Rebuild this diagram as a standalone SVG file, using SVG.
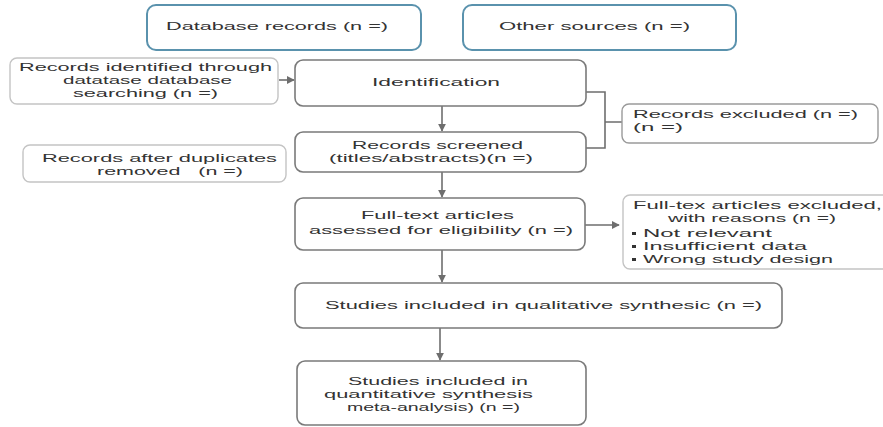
<svg xmlns="http://www.w3.org/2000/svg" width="883" height="427" viewBox="0 0 883 427">
<defs>
<style>
text{font-family:"Liberation Sans",Arial,sans-serif;font-size:11.5px;fill:#333;}
.blue{fill:#fff;stroke:#5a92ad;stroke-width:2;}
.main{fill:#fff;stroke:#7a7a7a;stroke-width:1.6;}
.side{fill:#fff;stroke:#c4c4c4;stroke-width:1.4;}
.side2{fill:#fff;stroke:#9a9a9a;stroke-width:1.4;}
.conn{fill:none;stroke:#6e6e6e;stroke-width:1.6;}
</style>
<marker id="arr" viewBox="0 0 10 10" refX="9" refY="5" markerWidth="5" markerHeight="5" orient="auto" markerUnits="strokeWidth">
<path d="M0,0 L10,5 L0,10 z" fill="#6e6e6e"/>
</marker>
</defs>
<rect width="883" height="427" fill="#fff"/>
<g id="connectors">
<line class="conn" x1="279" y1="80" x2="294" y2="80" marker-end="url(#arr)"/>
<line class="conn" x1="442" y1="106" x2="442" y2="131" marker-end="url(#arr)"/>
<line class="conn" x1="442" y1="172" x2="442" y2="197" marker-end="url(#arr)"/>
<line class="conn" x1="442" y1="250" x2="442" y2="282" marker-end="url(#arr)"/>
<line class="conn" x1="440" y1="328" x2="440" y2="360" marker-end="url(#arr)"/>
<path class="conn" d="M586,92 H605 V148 H586 M605,122 H622"/>
<line class="conn" x1="585" y1="225" x2="619" y2="225" marker-end="url(#arr)"/>
</g>
<g id="database">
<rect class="blue" x="147" y="5" width="274" height="45" rx="9"/>
<text x="166" y="30" textLength="222" lengthAdjust="spacingAndGlyphs">Database records (n =)</text>
</g>
<g id="other">
<rect class="blue" x="463" y="5" width="273" height="45" rx="9"/>
<text x="499" y="30" textLength="191" lengthAdjust="spacingAndGlyphs">Other sources (n =)</text>
</g>
<g id="records-identified">
<rect class="side" x="10" y="58" width="268" height="46" rx="7"/>
<text x="19" y="71" textLength="253" lengthAdjust="spacingAndGlyphs">Records identified through</text>
<text x="63" y="84" textLength="169" lengthAdjust="spacingAndGlyphs">datatase database</text>
<text x="73" y="97" textLength="145" lengthAdjust="spacingAndGlyphs">searching (n =)</text>
</g>
<g id="identification">
<rect class="main" x="295" y="60" width="291" height="46" rx="8"/>
<text x="372" y="86" textLength="128" lengthAdjust="spacingAndGlyphs">Identification</text>
</g>
<g id="screened">
<rect class="main" x="295" y="132" width="291" height="40" rx="8"/>
<text x="352" y="149" textLength="171" lengthAdjust="spacingAndGlyphs">Records screened</text>
<text x="329" y="162" textLength="204" lengthAdjust="spacingAndGlyphs">(titles/abstracts)(n =)</text>
</g>
<g id="duplicates">
<rect class="side" x="23" y="145" width="263" height="37" rx="7"/>
<text x="42" y="162" textLength="235" lengthAdjust="spacingAndGlyphs">Records after duplicates</text>
<text x="97" y="175" textLength="146" lengthAdjust="spacingAndGlyphs" xml:space="preserve">removed   (n =)</text>
</g>
<g id="excluded">
<rect class="side2" x="622" y="104" width="256" height="39" rx="7"/>
<text x="633" y="118" textLength="225" lengthAdjust="spacingAndGlyphs">Records excluded (n =)</text>
<text x="633" y="131" textLength="50" lengthAdjust="spacingAndGlyphs">(n =)</text>
</g>
<g id="fulltext">
<rect class="main" x="295" y="198" width="290" height="52" rx="8"/>
<text x="361" y="219" textLength="153" lengthAdjust="spacingAndGlyphs">Full-text articles</text>
<text x="309" y="234" textLength="264" lengthAdjust="spacingAndGlyphs">assessed for eligibility (n =)</text>
</g>
<g id="fulltext-excluded">
<rect class="side" x="623" y="195" width="272" height="74" rx="7"/>
<text x="633" y="209" textLength="249" lengthAdjust="spacingAndGlyphs">Full-tex articles excluded,</text>
<text x="668" y="222" textLength="168" lengthAdjust="spacingAndGlyphs">with reasons (n =)</text>
<rect x="632" y="232" width="4" height="3" fill="#333"/>
<text x="643" y="237" textLength="129" lengthAdjust="spacingAndGlyphs">Not relevant</text>
<rect x="632" y="245" width="4" height="3" fill="#333"/>
<text x="643" y="250" textLength="164" lengthAdjust="spacingAndGlyphs">Insufficient data</text>
<rect x="632" y="258" width="4" height="3" fill="#333"/>
<text x="643" y="263" textLength="190" lengthAdjust="spacingAndGlyphs">Wrong study design</text>
</g>
<g id="qualitative">
<rect class="main" x="295" y="283" width="487" height="45" rx="8"/>
<text x="325" y="309" textLength="437" lengthAdjust="spacingAndGlyphs">Studies included in qualitative synthesic (n =)</text>
</g>
<g id="quantitative">
<rect class="main" x="297" y="361" width="289" height="64" rx="8"/>
<text x="348" y="385" textLength="180" lengthAdjust="spacingAndGlyphs">Studies included in</text>
<text x="324" y="398" textLength="209" lengthAdjust="spacingAndGlyphs">quantitative synthesis</text>
<text x="347" y="411" textLength="173" lengthAdjust="spacingAndGlyphs">meta-analysis) (n =)</text>
</g>
</svg>
